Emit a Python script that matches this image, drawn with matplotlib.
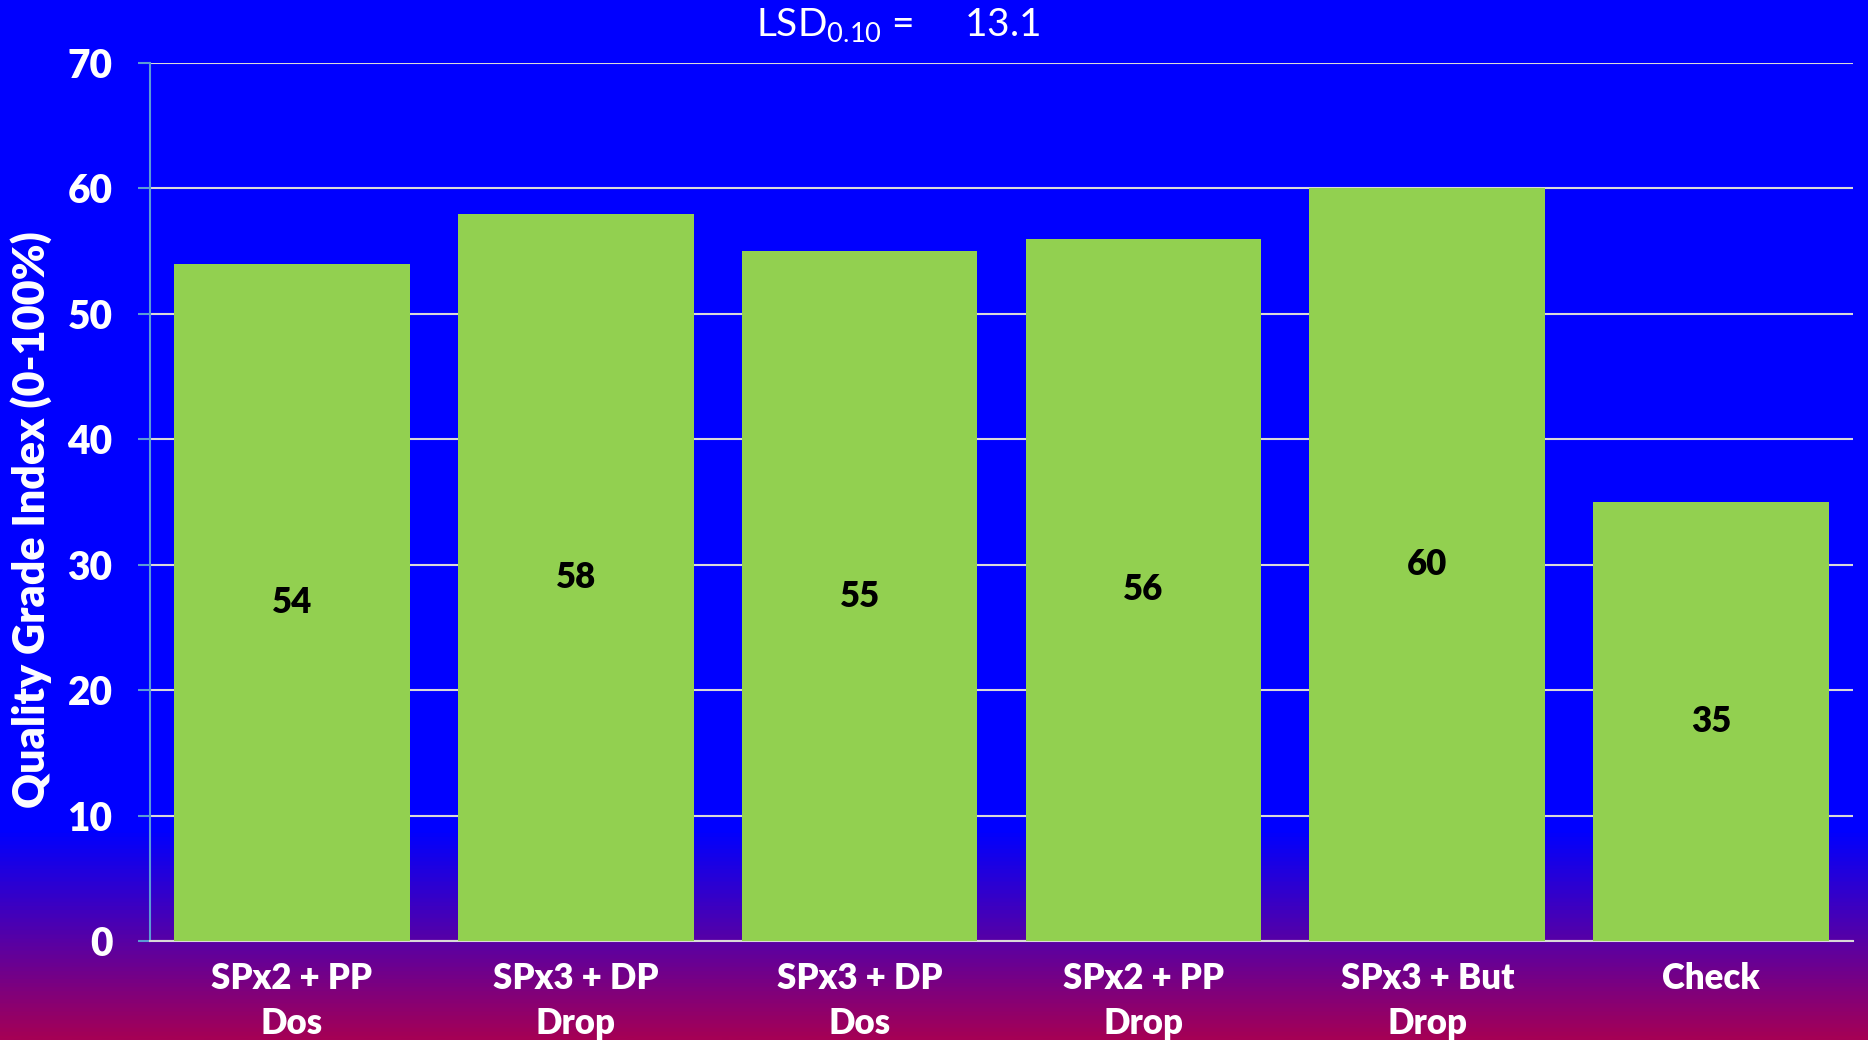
import numpy as np
import matplotlib
matplotlib.use('Agg')
import matplotlib.pyplot as plt
from matplotlib.colors import LinearSegmentedColormap

# datos del grafico
tratamientos = ['SPx2 + PP\nDos', 'SPx3 + DP\nDrop', 'SPx3 + DP\nDos',
                'SPx2 + PP\nDrop', 'SPx3 + But\nDrop', 'Check']
indice_calidad = [54, 58, 55, 56, 60, 35]
ticks_y = [0, 10, 20, 30, 40, 50, 60, 70]
lsd = 13.1

plt.rcParams['font.family'] = ['Lato', 'DejaVu Sans']
plt.rcParams['mathtext.fontset'] = 'custom'
plt.rcParams['mathtext.rm'] = 'Lato'

fig = plt.figure(figsize=(18.68, 10.4), dpi=100)

# fondo: azul arriba, degradado a purpura/rojo abajo
fondo = fig.add_axes([0, 0, 1, 1], zorder=-10)
cmap = LinearSegmentedColormap.from_list(
    'fondo', [(0.0, '#A50055'), (0.20, '#0000FF'), (1.0, '#0000FF')])
grad = np.linspace(0, 1, 512).reshape(-1, 1)
fondo.imshow(grad, aspect='auto', cmap=cmap, origin='lower', extent=[0, 1, 0, 1])
fondo.axis('off')

ax = fig.add_axes([0.0803, 0.0952, 0.9117, 0.8442])
ax.patch.set_alpha(0)

x = np.arange(len(tratamientos))
barras = ax.bar(x, indice_calidad, width=0.83, color='#92D050', zorder=3)

for xi, v in zip(x, indice_calidad):
    ax.text(xi, v / 2, str(v), ha='center', va='center', fontsize=25,
            fontweight='heavy', color='black', zorder=4)

ax.set_xlim(-0.5, len(tratamientos) - 0.5)
ax.set_ylim(0, 70)
ax.set_yticks(ticks_y)
ax.yaxis.grid(True, color='#D9D9D9', linewidth=1.5, zorder=1)
ax.set_axisbelow(True)

ax.set_xticks(x)
ax.set_xticklabels(tratamientos, fontsize=25, fontweight='heavy', color='white',
                   linespacing=1.45)
ax.tick_params(axis='x', length=0, pad=15)
ax.tick_params(axis='y', length=9, width=1.5, color='#5B9BD5', pad=18,
               labelsize=28, labelcolor='white')
for lab in ax.get_yticklabels():
    lab.set_fontweight('heavy')

for s in ['top', 'right']:
    ax.spines[s].set_visible(False)
ax.spines['left'].set_color('#5B9BD5')
ax.spines['left'].set_linewidth(1.5)
ax.spines['bottom'].set_color('#D9D9D9')
ax.spines['bottom'].set_linewidth(1.5)

fig.text(0.0166, 0.50, 'Quality Grade Index (0-100%)', rotation=90,
         ha='center', va='center', fontsize=31, fontweight='heavy', color='white')

fig.text(0.4807, 0.965, r'LSD$_{\mathrm{0.10}}$ =     ' + str(lsd), ha='center',
         va='baseline', fontsize=28, color='white')

fig.savefig('out.png', dpi=100)
